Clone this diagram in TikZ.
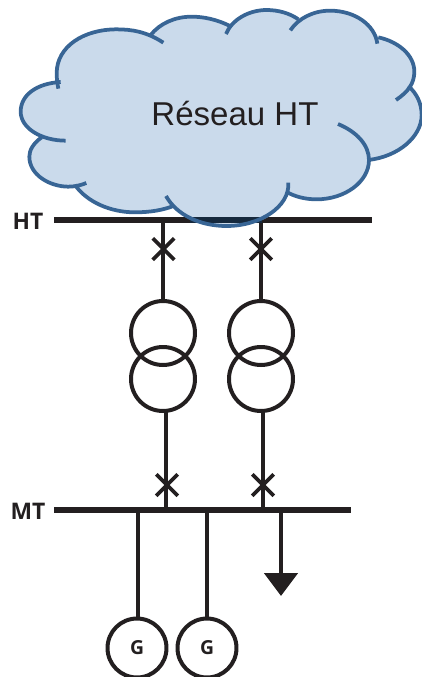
\documentclass[tikz,border=0pt]{standalone}
\usepackage{fontspec}
\setmainfont{Liberation Sans}
\newfontfamily\labelfont{Open Sans}
\usetikzlibrary{positioning}
\usetikzlibrary{shapes.misc}
\usetikzlibrary{arrows.meta}
\definecolor{ink}{HTML}{231F20}
\definecolor{inkblue}{HTML}{16293D}
\definecolor{cloudline}{HTML}{386595}
\definecolor{cloudfill}{HTML}{CADAEB}
\tikzset{
  bar/.style={ink,line width=.135cm},
  feeder/.style={ink,line width=.075cm},
  breaker/.style={cross out,draw=ink,line width=.075cm,minimum size=.43cm,inner sep=0,outer sep=0},
  winding/.style={circle,draw=ink,line width=.08cm,minimum size=1.28cm,inner sep=0,outer sep=0},
  generator/.style={circle,draw=ink,line width=.08cm,minimum size=1.18cm,inner sep=0,outer sep=0,text=ink,font=\labelfont\bfseries\fontsize{11}{13}\selectfont},
  busname/.style={text=ink,inner sep=0,font=\labelfont\bfseries\fontsize{13}{14}\selectfont},
  lobe/.style={cloudline,line width=.075cm}
}
\begin{document}
\begin{tikzpicture}[x=.02cm,y=-.02cm]
  \useasboundingbox (0,0) rectangle (422,677);
  % Place nodes
  \coordinate (htstart) at (54,220);
  \coordinate (htend) at (372,220);
  \coordinate (mtstart) at (54,510);
  \coordinate (mtend) at (351,510);
  \coordinate (htA) at (163,220);
  \coordinate (htB) at (261,220);
  \coordinate (mtA) at (166,510);
  \coordinate (mtB) at (263,510);
  \coordinate (mtG1) at (138,510);
  \coordinate (mtG2) at (207,510);
  \coordinate (mtL) at (281,510);
  \coordinate (loadtip) at (281,596);
  \coordinate (overlapstart) at (190,220);
  \coordinate (overlapend) at (262,220);
  \node [busname] (htname) at (28,221) {HT};
  \node [busname] (mtname) at (28,511) {MT};
  \node [winding] (trA1) at (163,333) {};
  \node [winding] (trA2) at (163,379) {};
  \node [winding] (trB1) at (261,333) {};
  \node [winding] (trB2) at (261,379) {};
  \node [breaker] (brA1) at (163.5,249) {};
  \node [breaker] (brB1) at (261,249) {};
  \node [breaker] (brA2) at (167,485) {};
  \node [breaker] (brB2) at (263,485) {};
  \node [generator] (genA) at (137,648) {G};
  \node [generator] (genB) at (207,648) {G};

  % Bus bars and feeders
  \draw [bar] (htstart) -- (htend);
  \draw [bar] (mtstart) -- (mtend);
  \draw [feeder] (htA) -- (trA1.north);
  \draw [feeder] (htB) -- (trB1.north);
  \draw [feeder] (mtA) -- (mtA |- trA2.south);
  \draw [feeder] (mtB) -- (mtB |- trB2.south);
  \draw [feeder] (mtG1) -- (mtG1 |- genA.north);
  \draw [feeder] (mtG2) -- (mtG2 |- genB.north);
  \draw [ink,line width=.095cm,-{Triangle[length=.46cm,width=.66cm]}] (mtL) -- (loadtip);

  % Cloud
  \begin{scope}[scale=1/3]
    \fill [cloudfill] (452,105) .. controls (420,95) and (385,88) .. (350,88)
      .. controls (250,88) and (170,140) .. (170,220) -- (175,248)
      .. controls (110,250) and (62,285) .. (62,335)
      .. controls (62,375) and (90,402) .. (125,412)
      .. controls (100,430) and (88,450) .. (88,470)
      .. controls (88,525) and (150,560) .. (205,560) -- (225,555)
      .. controls (260,605) and (330,637) .. (405,637)
      .. controls (450,637) and (490,630) .. (520,618)
      .. controls (560,660) and (620,678) .. (680,678)
      .. controls (780,678) and (850,640) .. (858,575)
      .. controls (885,590) and (915,598) .. (950,598)
      .. controls (1035,598) and (1107,545) .. (1105,480)
      .. controls (1195,470) and (1265,410) .. (1265,345)
      .. controls (1265,310) and (1250,280) .. (1225,258)
      .. controls (1240,245) and (1243,230) .. (1243,215)
      .. controls (1243,165) and (1195,125) .. (1135,112)
      .. controls (1110,65) and (1055,32) .. (990,32)
      .. controls (950,32) and (920,42) .. (895,58)
      .. controls (870,40) and (835,30) .. (800,30)
      .. controls (755,30) and (715,47) .. (690,78)
      .. controls (650,58) and (610,50) .. (575,50)
      .. controls (525,50) and (480,70) .. (452,105) -- cycle;
    \draw [lobe] (490,128) .. controls (440,95) and (395,88) .. (350,88) .. controls (250,88) and (170,140) .. (170,220) .. controls (170,235) and (172,250) .. (175,266);
    \draw [lobe] (182,246) .. controls (110,250) and (62,285) .. (62,335) .. controls (62,385) and (125,422) .. (197,422);
    \draw [lobe] (125,412) .. controls (100,430) and (88,450) .. (88,470) .. controls (88,525) and (150,560) .. (205,560) .. controls (225,560) and (245,555) .. (259,549);
    \draw [lobe] (225,555) .. controls (260,605) and (330,637) .. (405,637) .. controls (450,637) and (490,630) .. (520,618);
  \end{scope}
  \draw [bar,inkblue] (overlapstart) -- (overlapend);
  \begin{scope}[scale=1/3]
    \draw [lobe] (498,588) .. controls (530,645) and (600,678) .. (680,678) .. controls (780,678) and (870,620) .. (865,548);
    \draw [lobe] (858,575) .. controls (885,590) and (915,598) .. (950,598) .. controls (1035,598) and (1107,545) .. (1107,480) .. controls (1107,435) and (1070,395) .. (1014,372);
    \draw [lobe] (1105,480) .. controls (1195,470) and (1265,410) .. (1265,345) .. controls (1265,310) and (1250,280) .. (1225,258);
    \draw [lobe] (1188,300) .. controls (1225,275) and (1243,250) .. (1243,215) .. controls (1243,165) and (1195,125) .. (1135,112);
    \draw [lobe] (1132,131) .. controls (1125,75) and (1065,32) .. (990,32) .. controls (940,32) and (895,55) .. (871,91);
    \draw [lobe] (895,58) .. controls (870,40) and (835,30) .. (800,30) .. controls (745,30) and (695,60) .. (678,102);
    \draw [lobe] (690,78) .. controls (650,58) and (610,50) .. (575,50) .. controls (525,50) and (480,70) .. (452,105);
  \end{scope}
  \node [text=ink,inner sep=0,font=\fontsize{18.8}{22}\selectfont] (cloudname) at (235,113) {Réseau HT};
\end{tikzpicture}
\end{document}
